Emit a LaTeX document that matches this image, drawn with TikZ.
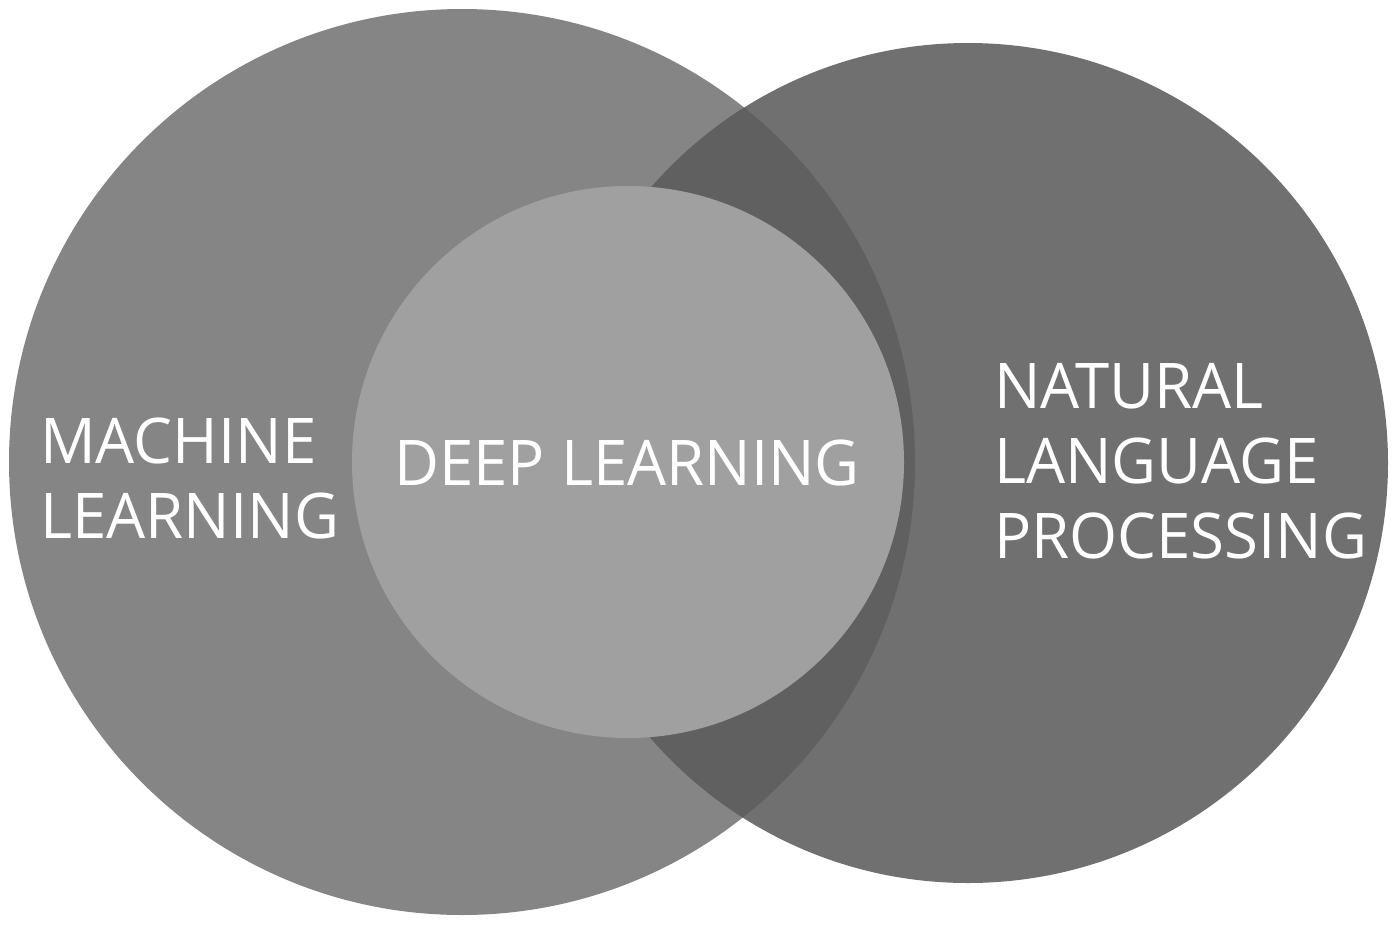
\documentclass[tikz,border=0pt]{standalone}
\usepackage{fontspec}
\setmainfont[FakeStretch=0.98]{Open Sans}
\definecolor{mlgray}{RGB}{133,133,133}
\definecolor{nlpgray}{RGB}{112,112,112}
\definecolor{lensgray}{RGB}{96,96,96}
\definecolor{dlgray}{RGB}{160,160,160}
\begin{document}
\begin{tikzpicture}[x=1pt,y=-1pt,
  lbl/.style={text=white, font=\fontsize{63}{75}\selectfont, inner sep=0pt, anchor=base west},
  disc/.style={circle, inner sep=0pt, draw=none}]
\useasboundingbox (0,0) rectangle (1400,927);
\node[disc, fill=mlgray, minimum size=906pt] (ml) at (462,462) {};
\node[disc, fill=nlpgray, minimum size=840pt] (nlp) at (968,463) {};
\begin{scope}
  \clip (462,462) circle (453pt);
  \fill[lensgray] (968,463) circle (420pt);
\end{scope}
\node[disc, fill=dlgray, minimum size=552pt] (dl) at (628,462) {};
\node[lbl] (ml1) at (40,463) {MACHINE};
\node[lbl] (ml2) at (40,538) {LEARNING};
\node[lbl] (dlt) at (394,485) {DEEP LEARNING};
\node[lbl] (nlp1) at (994,408) {NATURAL};
\node[lbl] (nlp2) at (994,483) {LANGUAGE};
\node[lbl] (nlp3) at (994,558) {PROCESSING};
\end{tikzpicture}
\end{document}
